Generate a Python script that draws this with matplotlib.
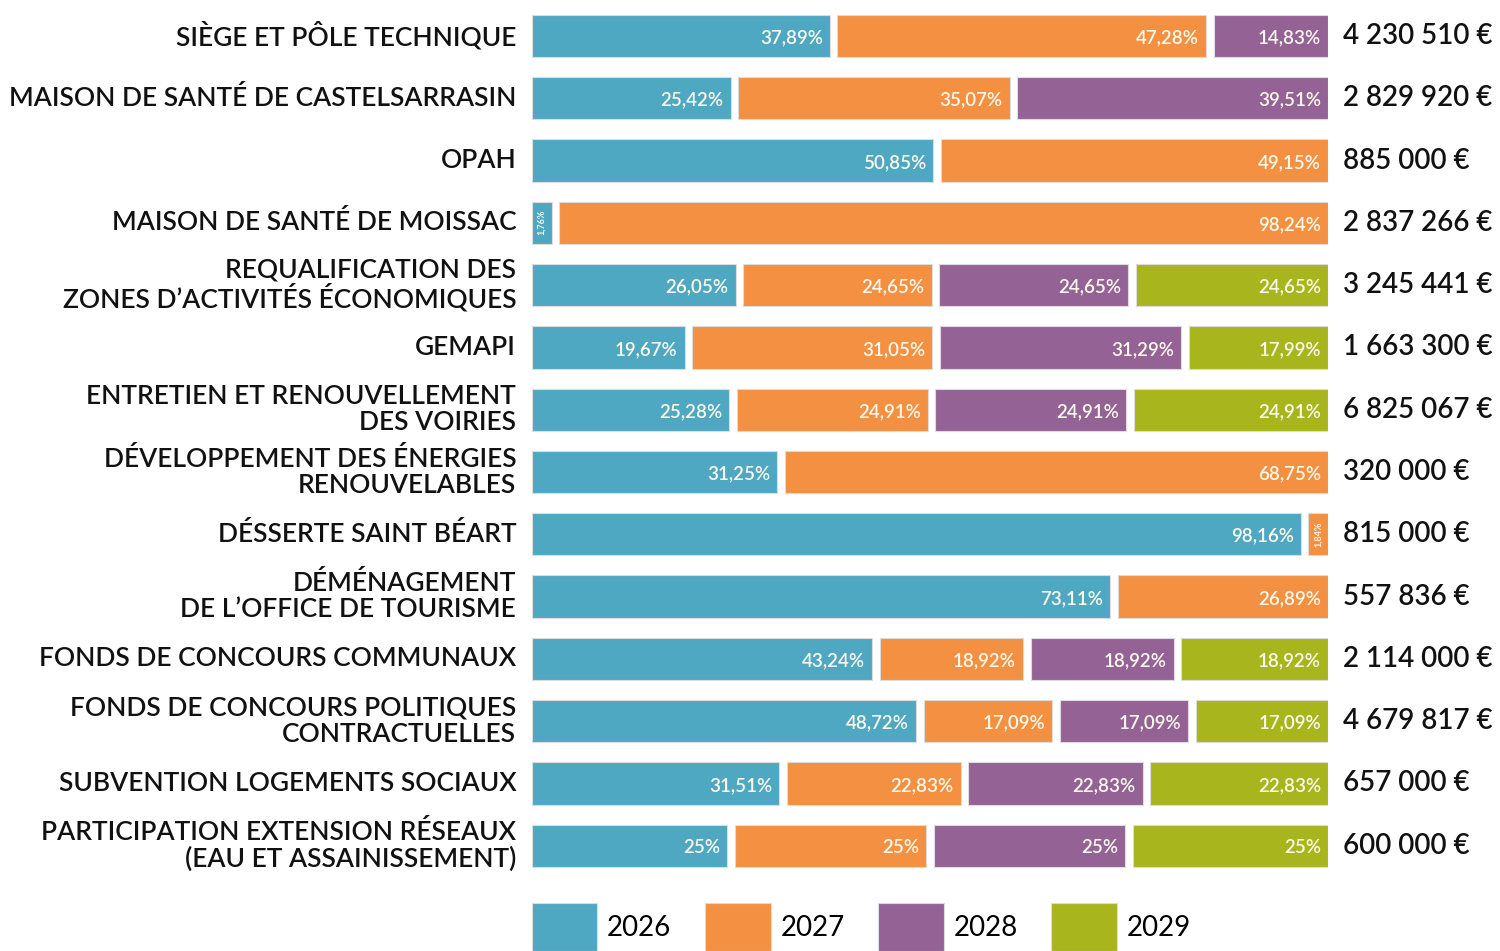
import matplotlib.pyplot as plt
from matplotlib.patches import Patch

plt.rcParams['font.family'] = ['Lato', 'DejaVu Sans']

projects = [
    "SIÈGE ET PÔLE TECHNIQUE",
    "MAISON DE SANTÉ DE CASTELSARRASIN",
    "OPAH",
    "MAISON DE SANTÉ DE MOISSAC",
    "REQUALIFICATION DES\nZONES D’ACTIVITÉS ÉCONOMIQUES",
    "GEMAPI",
    "ENTRETIEN ET RENOUVELLEMENT\nDES VOIRIES",
    "DÉVELOPPEMENT DES ÉNERGIES\nRENOUVELABLES",
    "DÉSSERTE SAINT BÉART",
    "DÉMÉNAGEMENT\nDE L’OFFICE DE TOURISME",
    "FONDS DE CONCOURS COMMUNAUX",
    "FONDS DE CONCOURS POLITIQUES\nCONTRACTUELLES",
    "SUBVENTION LOGEMENTS SOCIAUX",
    "PARTICIPATION EXTENSION RÉSEAUX\n(EAU ET ASSAINISSEMENT)",
]
totals = ["4 230 510 €", "2 829 920 €", "885 000 €", "2 837 266 €", "3 245 441 €",
          "1 663 300 €", "6 825 067 €", "320 000 €", "815 000 €", "557 836 €",
          "2 114 000 €", "4 679 817 €", "657 000 €", "600 000 €"]

years = ["2026", "2027", "2028", "2029"]
y2026 = [37.89, 25.42, 50.85, 1.76, 26.05, 19.67, 25.28, 31.25, 98.16, 73.11, 43.24, 48.72, 31.51, 25]
y2027 = [47.28, 35.07, 49.15, 98.24, 24.65, 31.05, 24.91, 68.75, 1.84, 26.89, 18.92, 17.09, 22.83, 25]
y2028 = [14.83, 39.51, 0, 0, 24.65, 31.29, 24.91, 0, 0, 0, 18.92, 17.09, 22.83, 25]
y2029 = [0, 0, 0, 0, 24.65, 17.99, 24.91, 0, 0, 0, 18.92, 17.09, 22.83, 25]
series = [y2026, y2027, y2028, y2029]
colors = ["#4fa8c2", "#f39041", "#946295", "#a8b51c"]

MIN_W = 3.0   # tiny shares get a visible minimum width
GAP = 0.95    # white gap between segments, in % units


def fmt(v):
    s = f"{v:.2f}".replace(".", ",")
    if s.endswith(",00"):
        s = s[:-3]
    return s + "%"


fig = plt.figure(figsize=(15, 9.51), dpi=100)
ax = fig.add_axes([0.3547, 0.0779, 0.5307, 0.917])
ax.set_xlim(0, 100)
ax.set_ylim(13.5, -0.5)
ax.axis("off")

for i in range(len(projects)):
    vals = [s[i] for s in series]
    shown = [max(v, MIN_W) if v > 0 else 0 for v in vals]
    tot = sum(shown)
    shown = [w * 100 / tot for w in shown]
    nz = [k for k, v in enumerate(vals) if v > 0]
    left = 0
    for k in nz:
        w = shown[k]
        l0 = left + (GAP / 2 if k != nz[0] else 0)
        r0 = left + w - (GAP / 2 if k != nz[-1] else 0)
        ax.barh(i, r0 - l0, left=l0, height=0.68, color=colors[k],
                edgecolor="#dcdcdc", linewidth=0.8)
        if vals[k] < 3:
            ax.text((l0 + r0) / 2, i, fmt(vals[k]), rotation=90, ha="center",
                    va="center", color="#fbf8ec", fontsize=6.5, fontweight="bold")
        else:
            ax.text(r0 - 0.9, i + 0.03, fmt(vals[k]), ha="right", va="center",
                    color="#fbf8ec", fontsize=13.5, fontweight="semibold")
        left += w
    ax.text(-2.0, i, projects[i], ha="right", va="center", fontsize=19,
            color="#111111", linespacing=1.05, fontweight="semibold")
    ax.text(101.9, i, totals[i], ha="left", va="center", fontsize=20,
            color="#111111", fontweight="semibold")

handles = [Patch(facecolor=c, edgecolor="#dcdcdc", linewidth=0.8) for c in colors]
fig.legend(handles, years, loc="lower left", bbox_to_anchor=(0.347, -0.012),
           ncol=4, frameon=False, fontsize=20, handlelength=2.37, handleheight=2.3,
           handletextpad=0.35, columnspacing=1.2, borderaxespad=0)

fig.savefig("out.png", dpi=100)
